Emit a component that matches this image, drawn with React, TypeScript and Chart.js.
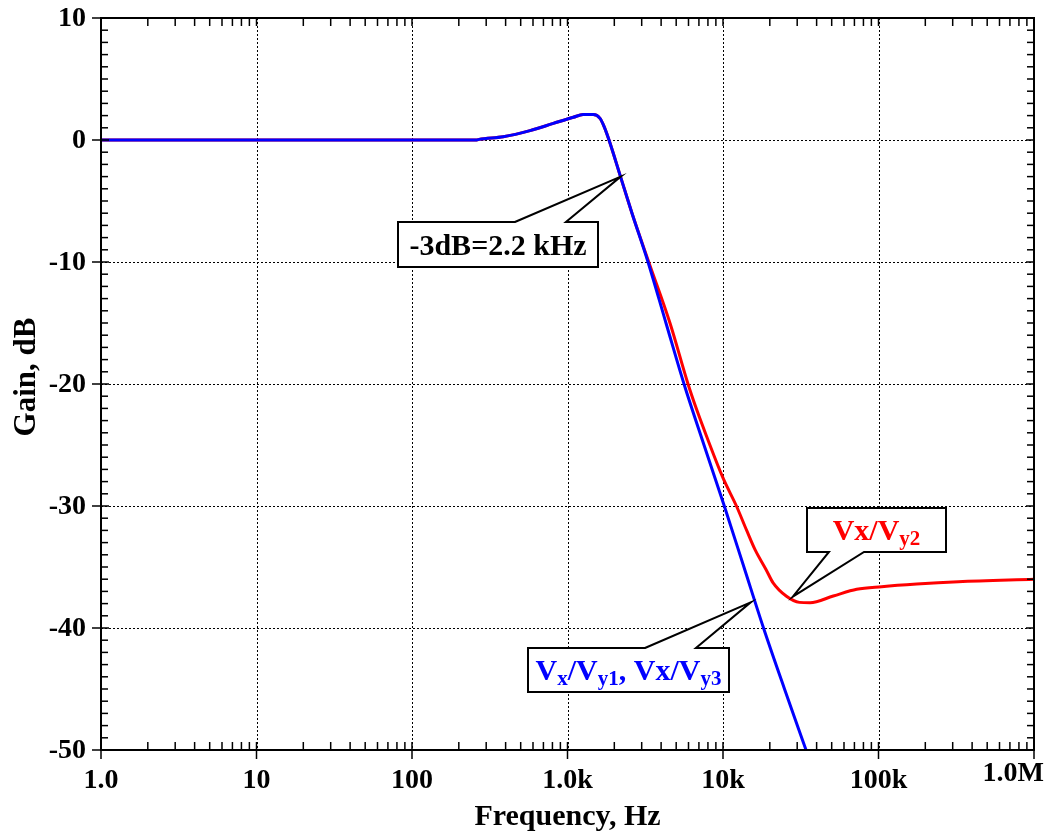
import React, { useEffect, useRef } from 'react';
import { Chart, registerables } from 'chart.js';

Chart.register(...registerables);

// ---- data ----
const blueFreq = [1, 10, 100, 261, 270, 386, 574, 811, 1090, 1260, 1465, 1618, 1720, 1849, 2192, 2599, 3294, 4298, 5614, 7547, 10195, 13630, 18220, 24860, 34190];
const blueGain = [0, 0, 0, 0, 0.05, 0.27, 0.77, 1.36, 1.86, 2.08, 2.08, 1.77, 1.1, 0, -3.0, -6.0, -10, -15, -20, -25, -30, -35, -40, -45, -50];

const redFreq = [1, 10, 100, 261, 270, 386, 574, 811, 1090, 1260, 1465, 1618, 1720, 1849, 2192, 2599, 3330, 4560, 5957, 6770, 7850, 10000, 12200, 14200, 16100, 18900, 21000, 25600, 31000, 36270, 51210, 72400, 104800, 176100, 326100, 1000000];
const redGain = [0, 0, 0, 0, 0.05, 0.27, 0.77, 1.36, 1.86, 2.08, 2.08, 1.77, 1.1, 0, -3.0, -6.0, -10, -15, -20, -22.1, -24.3, -27.7, -30, -32, -33.6, -35.2, -36.3, -37.4, -37.9, -37.93, -37.38, -36.83, -36.61, -36.39, -36.2, -36.0];

const yTickValues = [10, 0, -10, -20, -30, -40, -50];
const yTickLabels = ['10', '0', '-10', '-20', '-30', '-40', '-50'];
const xTickValues = [1, 10, 100, 1000, 10000, 100000, 1000000];
const xTickLabels = ['1.0', '10', '100', '1.0k', '10k', '100k', '1.0M'];

const xTitle = 'Frequency, Hz';
const yTitle = 'Gain, dB';

const BLUE = '#0000ff';
const RED = '#ff0000';
const FONT = '"Liberation Serif", "Times New Roman", serif';

type Part = { t: string; sub?: boolean };
type Callout = {
  parts: Part[];
  color: string;
  box: [number, number, number, number]; // f1, f2, dbTop, dbBottom
  base: [number, number]; // base freqs on edge
  edge: 'top' | 'bottom';
  tip: [number, number]; // freq, dB
};

const callouts: Callout[] = [
  {
    parts: [{ t: '-3dB=2.2 kHz' }],
    color: '#000000',
    box: [81.3, 1571, -6.72, -10.41],
    base: [459, 977],
    edge: 'top',
    tip: [2200, -3],
  },
  {
    parts: [{ t: 'Vx/V' }, { t: 'y2', sub: true }],
    color: RED,
    box: [34700, 271600, -30.16, -33.77],
    base: [48000, 80700],
    edge: 'bottom',
    tip: [28100, -37.43],
  },
  {
    parts: [
      { t: 'V' }, { t: 'x', sub: true }, { t: '/V' }, { t: 'y1', sub: true },
      { t: ', Vx/V' }, { t: 'y3', sub: true },
    ],
    color: BLUE,
    box: [557, 10930, -41.64, -45.25],
    base: [3150, 6700],
    edge: 'top',
    tip: [15070, -37.9],
  },
];

const framePlugin = {
  id: 'frame',
  beforeDatasetsDraw(chart: any) {
    const { ctx, chartArea: a, scales } = chart;
    const xs = scales.x, ys = scales.y;
    ctx.save();
    ctx.strokeStyle = '#000';
    ctx.lineWidth = 1;
    ctx.setLineDash([2, 2]);
    xTickValues.forEach((v) => {
      const px = Math.round(xs.getPixelForValue(v)) + 0.5;
      ctx.beginPath();
      ctx.moveTo(px, a.top);
      ctx.lineTo(px, a.bottom);
      ctx.stroke();
    });
    yTickValues.forEach((v) => {
      const py = Math.round(ys.getPixelForValue(v)) + 0.5;
      ctx.beginPath();
      ctx.moveTo(a.left, py);
      ctx.lineTo(a.right, py);
      ctx.stroke();
    });
    ctx.restore();
  },
  afterDatasetsDraw(chart: any) {
    const { ctx, chartArea: a, scales } = chart;
    const xs = scales.x, ys = scales.y;
    ctx.save();
    ctx.setLineDash([]);
    ctx.strokeStyle = '#000';
    ctx.lineWidth = 1.5;
    const line = (x1: number, y1: number, x2: number, y2: number) => {
      ctx.beginPath();
      ctx.moveTo(x1, y1);
      ctx.lineTo(x2, y2);
      ctx.stroke();
    };
    for (let d = 1; d < 1000000; d *= 10) {
      for (let m = 2; m <= 9; m++) {
        const px = xs.getPixelForValue(d * m);
        line(px, a.bottom, px, a.bottom - 8);
        line(px, a.top, px, a.top + 8);
      }
    }
    xTickValues.forEach((v) => {
      const px = xs.getPixelForValue(v);
      line(px, a.bottom + 9, px, a.bottom - 8);
      line(px, a.top, px, a.top + 8);
    });
    for (let v = -50; v <= 10; v++) {
      const py = ys.getPixelForValue(v);
      if (v % 10 === 0) {
        line(a.left - 9, py, a.left + 8, py);
        line(a.right, py, a.right - 8, py);
      } else {
        line(a.left, py, a.left + 7, py);
        line(a.right, py, a.right - 7, py);
      }
    }
    ctx.lineWidth = 2;
    ctx.strokeRect(a.left, a.top, a.right - a.left, a.bottom - a.top);

    // tick labels
    ctx.fillStyle = '#000';
    ctx.font = `bold 28px ${FONT}`;
    ctx.textAlign = 'right';
    ctx.textBaseline = 'middle';
    yTickValues.forEach((v, i) => {
      ctx.fillText(yTickLabels[i], a.left - 15, ys.getPixelForValue(v) + 1);
    });
    ctx.textAlign = 'center';
    xTickValues.forEach((v, i) => {
      const px = xs.getPixelForValue(v);
      if (i === xTickValues.length - 1) {
        ctx.textAlign = 'right';
        ctx.fillText(xTickLabels[i], px + 10, a.bottom + 24);
        ctx.textAlign = 'center';
      } else {
        ctx.fillText(xTickLabels[i], px, a.bottom + 31);
      }
    });
    // titles
    ctx.font = `bold 30px ${FONT}`;
    ctx.fillText(xTitle, (a.left + a.right) / 2, a.bottom + 67);
    ctx.save();
    ctx.font = `bold 31px ${FONT}`;
    ctx.translate(27, 377);
    ctx.rotate(-Math.PI / 2);
    ctx.fillText(yTitle, 0, 0);
    ctx.restore();

    // callouts
    callouts.forEach((c) => {
      const x1 = Math.round(xs.getPixelForValue(c.box[0]));
      const x2 = Math.round(xs.getPixelForValue(c.box[1]));
      const y1 = Math.round(ys.getPixelForValue(c.box[2]));
      const y2 = Math.round(ys.getPixelForValue(c.box[3]));
      const b1 = xs.getPixelForValue(c.base[0]);
      const b2 = xs.getPixelForValue(c.base[1]);
      const tx = xs.getPixelForValue(c.tip[0]);
      const ty = ys.getPixelForValue(c.tip[1]);
      ctx.beginPath();
      if (c.edge === 'top') {
        ctx.moveTo(b1, y1);
        ctx.lineTo(tx, ty);
        ctx.lineTo(b2, y1);
        ctx.lineTo(x2, y1);
        ctx.lineTo(x2, y2);
        ctx.lineTo(x1, y2);
        ctx.lineTo(x1, y1);
      } else {
        ctx.moveTo(x1, y1);
        ctx.lineTo(x2, y1);
        ctx.lineTo(x2, y2);
        ctx.lineTo(b2, y2);
        ctx.lineTo(tx, ty);
        ctx.lineTo(b1, y2);
        ctx.lineTo(x1, y2);
      }
      ctx.closePath();
      ctx.fillStyle = '#fff';
      ctx.fill();
      ctx.lineWidth = 2;
      ctx.strokeStyle = '#000';
      ctx.lineJoin = 'miter';
      ctx.stroke();

      const mainFont = `bold 30px ${FONT}`;
      const subFont = `bold 21px ${FONT}`;
      let total = 0;
      c.parts.forEach((p) => {
        ctx.font = p.sub ? subFont : mainFont;
        total += ctx.measureText(p.t).width;
      });
      let cx = (x1 + x2) / 2 - total / 2;
      const baseY = (y1 + y2) / 2 + 10;
      ctx.fillStyle = c.color;
      ctx.textAlign = 'left';
      ctx.textBaseline = 'alphabetic';
      c.parts.forEach((p) => {
        ctx.font = p.sub ? subFont : mainFont;
        ctx.fillText(p.t, cx, p.sub ? baseY + 5 : baseY);
        cx += ctx.measureText(p.t).width;
      });
    });
    ctx.restore();
  },
};

export default function App() {
  const ref = useRef<HTMLCanvasElement>(null);
  useEffect(() => {
    document.body.style.margin = '0';
    const canvas = ref.current!;
    const chart = new Chart(canvas, {
      type: 'line',
      data: {
        datasets: [
          {
            label: 'Vx/Vy1, Vx/Vy3',
            data: blueFreq.map((f, i) => ({ x: f, y: blueGain[i] })),
            borderColor: BLUE,
            borderWidth: 3,
            pointRadius: 0,
            cubicInterpolationMode: 'monotone',
          },
          {
            label: 'Vx/Vy2',
            data: redFreq.map((f, i) => ({ x: f, y: redGain[i] })),
            borderColor: RED,
            borderWidth: 3,
            pointRadius: 0,
            cubicInterpolationMode: 'monotone',
          },
        ],
      },
      options: {
        responsive: false,
        animation: false,
        devicePixelRatio: 1,
        events: [],
        layout: { padding: { left: 101, right: 15, top: 18, bottom: 86 } },
        plugins: { legend: { display: false }, tooltip: { enabled: false } },
        scales: {
          x: { type: 'logarithmic', min: 1, max: 1000000, display: false },
          y: { type: 'linear', min: -50, max: 10, display: false },
        },
      },
      plugins: [framePlugin],
    });
    return () => chart.destroy();
  }, []);
  return <canvas ref={ref} width={1049} height={836} style={{ display: 'block' }} />;
}
